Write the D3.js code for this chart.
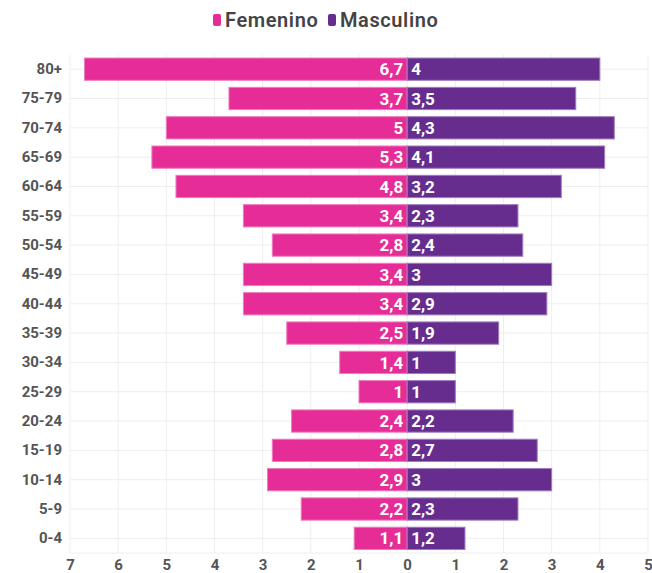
<!DOCTYPE html>
<html>
  <head>
    <title>Pirámide de población</title>
    <style>
      body { margin: 0; background: #fff; }
      text { font-family: Roboto, "Open Sans", sans-serif; }
    </style>
  </head>
  <body>
    <script src="https://d3js.org/d3.v7.min.js"></script>
    <script>

var width = 652,
    height = 573;

// age groups, oldest first (top of chart)
var ages = ["80+", "75-79", "70-74", "65-69", "60-64", "55-59", "50-54", "45-49",
            "40-44", "35-39", "30-34", "25-29", "20-24", "15-19", "10-14", "5-9", "0-4"];
var femenino = [6.7, 3.7, 5, 5.3, 4.8, 3.4, 2.8, 3.4, 3.4, 2.5, 1.4, 1, 2.4, 2.8, 2.9, 2.2, 1.1];
var masculino = [4, 3.5, 4.3, 4.1, 3.2, 2.3, 2.4, 3, 2.9, 1.9, 1, 1, 2.2, 2.7, 3, 2.3, 1.2];
var xTicks = [-7, -6, -5, -4, -3, -2, -1, 0, 1, 2, 3, 4, 5];
var series = ["Femenino", "Masculino"];

var colFem = "#e62c96",
    colMasc = "#662d8f";

var x = d3.scaleLinear().domain([-7, 5]).range([70, 648]);
var y = d3.scaleBand().domain(ages).range([54.5, 553]).paddingInner(0.24).paddingOuter(0.12);

var fmt = function (v) { return String(v).replace(".", ","); };

var svg = d3.select("body").append("svg")
    .attr("width", width)
    .attr("height", height);

// grid
var grid = svg.append("g");
grid.selectAll("line.v")
  .data(xTicks)
  .enter().append("line")
    .attr("x1", function (d) { return x(d); })
    .attr("x2", function (d) { return x(d); })
    .attr("y1", 54.5)
    .attr("y2", 553)
    .attr("stroke", "#eeeeee");
grid.selectAll("line.h")
  .data(ages)
  .enter().append("line")
    .attr("x1", x(-7))
    .attr("x2", x(5))
    .attr("y1", function (d) { return y(d) + y.bandwidth() / 2; })
    .attr("y2", function (d) { return y(d) + y.bandwidth() / 2; })
    .attr("stroke", "#eeeeee");
grid.append("line")
    .attr("x1", x(-7)).attr("x2", x(5))
    .attr("y1", 553).attr("y2", 553)
    .attr("stroke", "#eeeeee");

// bars
var rows = ages.map(function (a, i) { return { age: a, f: femenino[i], m: masculino[i] }; });

svg.selectAll("rect.fem")
  .data(rows)
  .enter().append("rect")
    .attr("x", function (d) { return x(-d.f); })
    .attr("y", function (d) { return y(d.age); })
    .attr("width", function (d) { return x(0) - x(-d.f); })
    .attr("height", y.bandwidth())
    .attr("fill", colFem)
    .attr("stroke", "#f07cc0")
    .attr("stroke-width", 1);

svg.selectAll("rect.masc")
  .data(rows)
  .enter().append("rect")
    .attr("x", x(0))
    .attr("y", function (d) { return y(d.age); })
    .attr("width", function (d) { return x(d.m) - x(0); })
    .attr("height", y.bandwidth())
    .attr("fill", colMasc)
    .attr("stroke", "#a07cbf")
    .attr("stroke-width", 1);

// value labels
svg.selectAll("text.fl")
  .data(rows)
  .enter().append("text")
    .attr("x", x(0) - 4)
    .attr("y", function (d) { return y(d.age) + y.bandwidth() / 2; })
    .attr("dy", "0.36em")
    .attr("text-anchor", "end")
    .attr("fill", "#fff")
    .attr("font-size", 17)
    .attr("font-weight", 700)
    .text(function (d) { return fmt(d.f); });

svg.selectAll("text.ml")
  .data(rows)
  .enter().append("text")
    .attr("x", x(0) + 4)
    .attr("y", function (d) { return y(d.age) + y.bandwidth() / 2; })
    .attr("dy", "0.36em")
    .attr("text-anchor", "start")
    .attr("fill", "#fff")
    .attr("font-size", 17)
    .attr("font-weight", 700)
    .text(function (d) { return fmt(d.m); });

// y axis labels
var yAxis = svg.append("g")
    .attr("transform", "translate(" + (x(-7) - 8) + ",0)")
    .call(d3.axisLeft(y).tickSize(0).tickPadding(0));
yAxis.select(".domain").remove();
yAxis.selectAll("text")
    .attr("font-size", 15)
    .attr("font-weight", 700)
    .attr("fill", "#555")
    .style("font-family", "Roboto, sans-serif");

// x axis labels
var xAxis = svg.append("g")
    .attr("transform", "translate(0,553)")
    .call(d3.axisBottom(x).tickValues(xTicks).tickSize(0).tickPadding(6)
      .tickFormat(function (d) { return Math.abs(d); }));
xAxis.select(".domain").remove();
xAxis.selectAll("text")
    .attr("font-size", 15)
    .attr("font-weight", 700)
    .attr("fill", "#555")
    .style("font-family", "Roboto, sans-serif");

// legend
var legend = svg.append("g").attr("transform", "translate(0,20)");
var legX = [213, 328];
var legCol = [colFem, colMasc];
series.forEach(function (s, i) {
  legend.append("rect")
    .attr("x", legX[i])
    .attr("y", -6)
    .attr("width", 8)
    .attr("height", 12)
    .attr("rx", 2)
    .attr("fill", legCol[i]);
  legend.append("text")
    .attr("x", legX[i] + 12)
    .attr("y", 0)
    .attr("dy", "0.36em")
    .attr("font-size", 20)
    .attr("font-weight", 600)
    .attr("letter-spacing", 0.6)
    .attr("fill", "#444")
    .text(s);
});

    </script>
  </body>
</html>
